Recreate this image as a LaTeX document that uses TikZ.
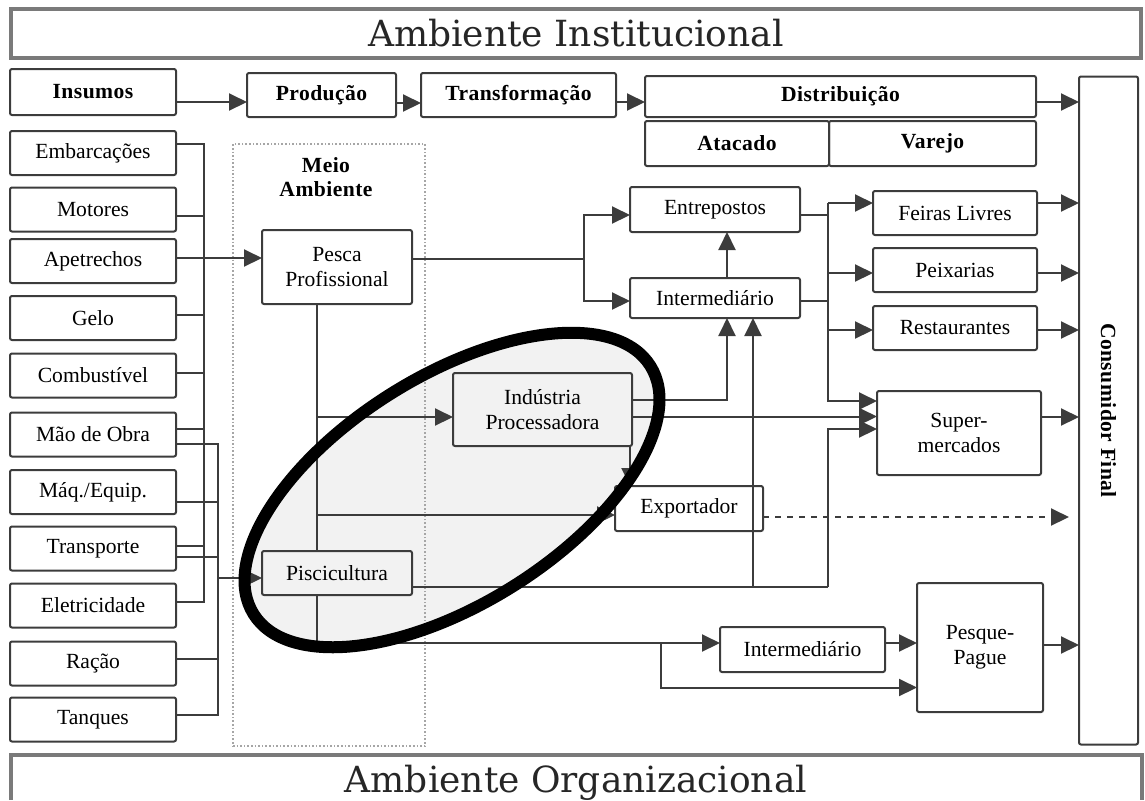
\documentclass[tikz,border=0pt]{standalone}
\usepackage{fontspec}
\setmainfont{Liberation Serif}
\newfontfamily\titlefont{DejaVu Serif}
\newfontfamily\headfont[LetterSpace=2]{Liberation Serif}
\usetikzlibrary{arrows.meta}
\definecolor{linegray}{HTML}{3C3C3C}
\definecolor{framegray}{HTML}{7A7A7A}
\definecolor{ringfill}{HTML}{F2F2F2}

\begin{document}
\begin{tikzpicture}[x=0.5pt,y=-0.5pt,color=linegray,line width=1pt,
    every node/.style={inner sep=0pt,outer sep=0pt,text=black,align=center,font=\fontsize{10.8}{12.5}\selectfont},
    box/.style={draw=linegray,line width=1pt,rounded corners=1pt},
    inbox/.style={box,minimum width=83pt,minimum height=22pt},
    head/.style={font=\headfont\bfseries\fontsize{10.8}{12}\selectfont},
    frame/.style={draw=framegray,line width=1.6pt},
    title/.style={text=black!85,font=\titlefont\fontsize{18}{20}\selectfont},
    >={Triangle[length=9pt,width=8.5pt]}]
    \useasboundingbox (0,0) rectangle (1145,800);
    % highlight
    \fill[ringfill,shift={(452,490)},rotate=32] (0,0) ellipse [x radius=234,y radius=114];
    % frames
    \node[frame,title,minimum width=565pt,minimum height=24.5pt] (inst) at (576,33.5) {Ambiente Institucional};
    \draw[frame] (11,800) |- (1142,755) -- (1142,800);
    \node[title,anchor=base] (org) at (576,792) {Ambiente Organizacional};
    % chain
    \node[box,head,minimum width=83pt,minimum height=23pt] (ins) at (93,92) {Insumos};
    \node[box,head,minimum width=74.5pt,minimum height=22pt] (prod) at (321.5,95) {Produção};
    \node[box,head,minimum width=97.5pt,minimum height=22pt] (trans) at (518.5,95) {Transformação};
    \node[box,head,minimum width=195.5pt,minimum height=20.5pt] (dist) at (840.5,96.5) {Distribuição};
    \node[box,head,minimum width=92pt,minimum height=22.5pt] (atac) at (737,143.5) {Atacado};
    \node[box,head,minimum width=103.5pt,minimum height=22.5pt] (varejo) at (932.5,143.5) {Varejo};
    \node[box,minimum width=29.5pt,minimum height=334pt] (cons) at (1108.5,410.5) {};
    \node[head,rotate=-90] (conslbl) at (cons) {Consumidor Final};
    % inputs
    \node[inbox] (emb) at (93,153) {Embarcações};
    \node[inbox] (mot) at (93,209.5) {Motores};
    \node[inbox] (apet) at (93,261) {Apetrechos};
    \node[inbox] (gelo) at (93,318) {Gelo};
    \node[inbox] (comb) at (93,375.5) {Combustível};
    \node[inbox] (mao) at (93,434.5) {Mão de Obra};
    \node[inbox] (maq) at (93,492) {Máq./Equip.};
    \node[inbox] (transp) at (93,548.5) {Transporte};
    \node[inbox] (elet) at (93,605.5) {Eletricidade};
    \node[inbox] (racao) at (93,663.5) {Ração};
    \node[inbox] (tanq) at (93,719.5) {Tanques};
    % production
    \node[draw=gray!70,densely dotted,line width=0.8pt,minimum width=96pt,minimum height=301pt] (meio) at (329,445) {};
    \node[head] (meiolbl) at (326,177.5) {Meio\\Ambiente};
    \node[box,minimum width=75pt,minimum height=37pt] (pesca) at (337,267) {Pesca\\Profissional};
    \node[box,minimum width=75pt,minimum height=22pt] (pisc) at (337,573) {Piscicultura};
    % market
    \node[box,minimum width=89.5pt,minimum height=36.5pt] (ind) at (542.5,409.5) {Indústria\\Processadora};
    \node[box,minimum width=74pt,minimum height=22.5pt] (exp) at (689,508.5) {Exportador};
    \node[box,minimum width=85pt,minimum height=22.5pt] (entr) at (715,209.5) {Entrepostos};
    \node[box,minimum width=85pt,minimum height=20pt] (inter) at (715,298) {Intermediário};
    \node[box,minimum width=82pt,minimum height=22pt] (feiras) at (955,213) {Feiras Livres};
    \node[box,minimum width=82pt,minimum height=22pt] (peix) at (955,270) {Peixarias};
    \node[box,minimum width=82pt,minimum height=22pt] (rest) at (955,328) {Restaurantes};
    \node[box,minimum width=82pt,minimum height=42pt] (super) at (959,433) {Super-\\mercados};
    \node[box,minimum width=82.5pt,minimum height=22.5pt] (int2) at (802.5,649.5) {Intermediário};
    \node[box,minimum width=63pt,minimum height=64.5pt] (pq) at (980,647.5) {Pesque-\\Pague};
    % top row
    \draw[->] ([yshift=-5pt]ins.east) -- ([yshift=-5pt]ins.east -| prod.west);
    \draw[->] ([yshift=-4pt]prod.east) -- ([yshift=-4pt]prod.east -| trans.west);
    \draw[->] ([yshift=-3.5pt]trans.east) -- ([yshift=-3.5pt]trans.east -| dist.west);
    \draw[->] ([yshift=-2.75pt]dist.east) -- ([yshift=-2.75pt]dist.east -| cons.west);
    % inputs to pesca and piscicultura
    \coordinate (b1t) at (204,144);
    \coordinate (b1b) at (204,602);
    \coordinate (b2t) at (218,444);
    \coordinate (b2b) at (218,715);
    \draw ([yshift=4.5pt]emb.east) -| (b1b) -- ([yshift=1.75pt]elet.east);
    \draw ([yshift=-4.75pt]mao.east) -| (b2b) -- ([yshift=2.25pt]tanq.east);
    \draw ([yshift=-3.25pt]mot.east) -- ([yshift=-3.25pt]mot.east -| b1t);
    \draw[->] ([yshift=1.5pt]apet.east) -- ([yshift=1.5pt]apet.east -| pesca.west);
    \draw ([yshift=1.5pt]gelo.east) -- ([yshift=1.5pt]gelo.east -| b1t);
    \draw ([yshift=1.5pt]comb.east) -- ([yshift=1.5pt]comb.east -| b1t);
    \draw ([yshift=2.75pt]mao.east) -- ([yshift=2.75pt]mao.east -| b1t);
    \draw ([yshift=-5pt]maq.east) -- ([yshift=-5pt]maq.east -| b2t);
    \draw ([yshift=1.25pt]transp.east) -- ([yshift=1.25pt]transp.east -| b1t);
    \draw ([yshift=-4.25pt]transp.east) -- ([yshift=-4.25pt]transp.east -| b2t);
    \draw ([yshift=2.25pt]racao.east) -- ([yshift=2.25pt]racao.east -| b2t);
    \draw[->] ([yshift=-2.5pt]pisc.west -| b2t) -- ([yshift=-2.5pt]pisc.west);
    % pesca to entrepostos / intermediario
    \coordinate (pb) at (584,259);
    \draw ([yshift=4pt]pesca.east) -- (pb);
    \draw[->] (pb) |- ([yshift=-2.75pt]entr.west);
    \draw[->] (pb) |- ([yshift=-1.5pt]inter.west);
    \draw[->] ([xshift=6pt]inter.north) -- ([xshift=6pt]entr.south);
    % retail
    \coordinate (rbt) at (828,203);
    \coordinate (rbb) at (828,401);
    \draw ([yshift=-2.75pt]entr.east) -- ([yshift=-2.75pt]entr.east -| rbt);
    \draw ([yshift=-1.5pt]inter.east) -- ([yshift=-1.5pt]inter.east -| rbt);
    \draw[->] (rbt) -- (rbt -| feiras.west);
    \draw[->] (rbt) -- (rbb) -- (rbb -| super.west);
    \draw[->] ([yshift=-1.5pt]peix.west -| rbt) -- ([yshift=-1.5pt]peix.west);
    \draw[->] ([yshift=-1pt]rest.west -| rbt) -- ([yshift=-1pt]rest.west);
    % to consumidor
    \draw[->] (rbt -| feiras.east) -- (rbt -| cons.west);
    \draw[->] ([yshift=-1.5pt]peix.east) -- ([yshift=-1.5pt]peix.east -| cons.west);
    \draw[->] ([yshift=-1pt]rest.east) -- ([yshift=-1pt]rest.east -| cons.west);
    \draw[->] ([yshift=8pt]super.east) -- ([yshift=8pt]super.east -| cons.west);
    \coordinate (expend) at (1069,517);
    \draw[->,dashed] (exp.east |- expend) -- (expend);
    \draw[->] ([yshift=1.25pt]pq.east) -- ([yshift=1.25pt]pq.east -| cons.west);
    % production flows
    \coordinate (vt) at ([xshift=-10pt]pesca.south);
    \draw (vt) -- (vt |- pisc.north);
    \draw[->] ([yshift=-3.75pt]ind.west -| vt) -- ([yshift=-3.75pt]ind.west);
    \draw[->] ([yshift=-3.25pt]exp.west -| vt) -- ([yshift=-3.25pt]exp.west);
    \draw[->] ([yshift=4.75pt]ind.east) -| ([xshift=6pt]inter.south);
    \draw[->] ([yshift=-3.5pt]ind.east) -- ([yshift=-3.5pt]ind.east -| super.west);
    \draw[->] ([xshift=-1pt]ind.south east) -- ([xshift=-1pt]ind.south east |- exp.north);
    \coordinate (pr) at (828,587);
    \draw ([yshift=-7pt]pisc.east) -- (pr);
    \draw[->] (pr) |- ([yshift=2pt]super.west);
    \draw[->] ([xshift=19pt]inter.south |- pr) -- ([xshift=19pt]inter.south);
    \draw[->] ([xshift=-10pt]pisc.south) |- ([yshift=3.25pt]int2.west);
    \coordinate (br) at (661,643);
    \draw[->] (br) |- ([yshift=-20pt]pq.west);
    \draw[->] ([yshift=3.25pt]int2.east) -- ([yshift=3.25pt]int2.east -| pq.west);
    % ring
    \draw[black,line width=6pt,shift={(452,490)},rotate=32] (0,0) ellipse [x radius=234,y radius=114];
\end{tikzpicture}
\end{document}
